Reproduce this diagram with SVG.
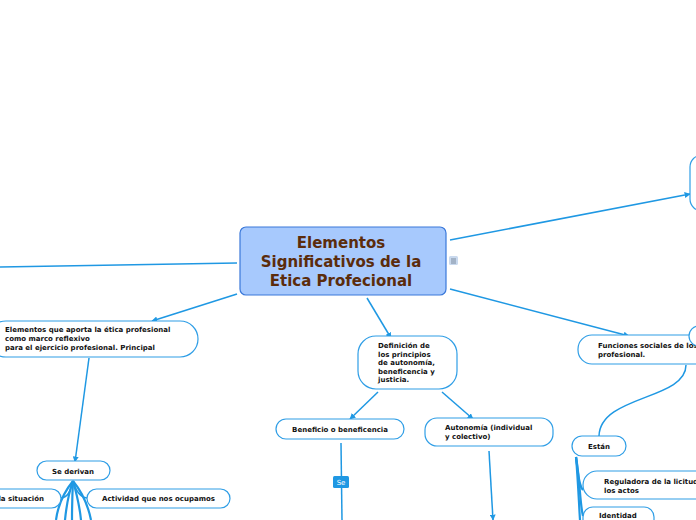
<svg xmlns="http://www.w3.org/2000/svg" width="696" height="520" viewBox="0 0 696 520">
<style>
.c{fill:none;stroke:#1f98e3;stroke-width:1.5}
.cb{fill:none;stroke:#1f98e3;stroke-width:2.2}
.n{fill:#fff;stroke:#2f9ee6;stroke-width:1.2}
.t{font-family:"DejaVu Sans",Verdana,sans-serif;font-weight:bold;font-size:7px;fill:#111}
.title{font-family:"DejaVu Sans",Verdana,sans-serif;font-weight:bold;font-size:15px;fill:#5b2c0c}
</style>
<defs>
<marker id="ah" viewBox="0 0 10 10" refX="9" refY="5" markerWidth="6" markerHeight="6" orient="auto" markerUnits="userSpaceOnUse">
<path d="M0,0 L10,5 L0,10 z" fill="#1f98e3"/>
</marker>
</defs>
<g id="connectors">
<line class="c" x1="237" y1="263" x2="0" y2="267"/>
<line class="c" x1="450" y1="240" x2="690" y2="194" marker-end="url(#ah)"/>
<line class="c" x1="237" y1="294" x2="152" y2="321" marker-end="url(#ah)"/>
<line class="c" x1="367" y1="298" x2="391" y2="338" marker-end="url(#ah)"/>
<line class="c" x1="450" y1="289" x2="629" y2="336" marker-end="url(#ah)"/>
<line class="c" x1="89" y1="358" x2="75" y2="462" marker-end="url(#ah)"/>
<line class="c" x1="378" y1="392" x2="350" y2="419" marker-end="url(#ah)"/>
<line class="c" x1="442" y1="392" x2="473" y2="419" marker-end="url(#ah)"/>
<line class="c" x1="341" y1="443" x2="342" y2="520"/>
<line class="c" x1="489" y1="451" x2="493" y2="520" marker-end="url(#ah)"/>
<path class="c" d="M73,481 C70,492 68,497 61,498"/>
<path class="c" d="M73,481 C76,492 80,497 87,498"/>
<path class="cb" d="M73,481 C64,492 58,505 56,520"/>
<path class="cb" d="M73,481 C82,492 88,505 91,520"/>
<path class="cb" d="M73,481 C68,495 66,510 65,520"/>
<path class="cb" d="M73,481 C77,495 80,510 81,520"/>
<path class="cb" d="M73,481 C72,500 72,510 72,520"/>
<path class="c" d="M686,365 C686,400 600,395 599,436"/>
<path class="cb" d="M576,457 C578,470 578,485 583,490"/>
<path class="cb" d="M576,457 C580,480 580,505 583,516"/>
<path class="cb" d="M576,457 C578,480 579,505 580,520"/>
</g>
<g id="central">
<rect x="240" y="227" width="206" height="68" rx="6" fill="#a7c9fd" stroke="#3a78da" stroke-width="1.2"/>
<text class="title" x="341" y="248" text-anchor="middle">Elementos</text>
<text class="title" x="341" y="267" text-anchor="middle">Significativos de la </text>
<text class="title" x="341" y="286" text-anchor="middle">Etica Profecional</text>
<rect x="449" y="256" width="9" height="9" rx="1.5" fill="#c9d9ee"/>
<path d="M451,259h5M451,261h5M451,263h5" stroke="#6b7a8c" stroke-width="0.8"/>
</g>
<g id="n-topright">
<rect class="n" x="690" y="155" width="60" height="56" rx="12" stroke="#7fc0ee"/>
</g>
<g id="n-elementos">
<rect class="n" x="-12" y="321" width="210" height="36" rx="18"/>
<text class="t" x="5" y="332">Elementos que aporta la ética profesional</text>
<text class="t" x="5" y="341">como marco reflexivo</text>
<text class="t" x="5" y="350">para el ejercicio profesional. Principal</text>
</g>
<g id="n-sederivan">
<rect class="n" x="37" y="461" width="73" height="19" rx="9.5"/>
<text class="t" x="73" y="473.5" text-anchor="middle">Se derivan</text>
</g>
<g id="n-situacion">
<rect class="n" x="-12" y="489" width="73" height="19" rx="9.5"/>
<text class="t" x="44" y="501" text-anchor="end">la situación</text>
</g>
<g id="n-actividad">
<rect class="n" x="87" y="489" width="143" height="19" rx="9.5"/>
<text class="t" x="158.5" y="501" text-anchor="middle">Actividad que nos ocupamos</text>
</g>
<g id="n-definicion">
<rect class="n" x="358" y="336" width="99" height="53" rx="18"/>
<text class="t" x="378" y="348">Definición de</text>
<text class="t" x="378" y="357">los principios</text>
<text class="t" x="378" y="365">de autonomía,</text>
<text class="t" x="378" y="374">beneficencia y</text>
<text class="t" x="378" y="382">justicia.</text>
</g>
<g id="n-beneficio">
<rect class="n" x="276" y="419" width="128" height="20" rx="10"/>
<text class="t" x="340" y="432" text-anchor="middle">Beneficio o beneficencia</text>
</g>
<g id="n-autonomia">
<rect class="n" x="425" y="418" width="128" height="28" rx="12"/>
<text class="t" x="445" y="430">Autonomía (individual</text>
<text class="t" x="445" y="439">y colectivo)</text>
</g>
<g id="label-se">
<rect x="333" y="476" width="16" height="12" rx="1.5" fill="#1f98e3"/>
<text x="341" y="485" text-anchor="middle" font-family="DejaVu Sans,sans-serif" font-size="7" fill="#fff">Se</text>
</g>
<g id="n-funciones">
<rect class="n" x="578" y="335" width="130" height="29" rx="14"/>
<text class="t" x="598" y="348">Funciones sociales de los</text>
<text class="t" x="598" y="357">profesional.</text>
</g>
<g id="n-circle">
<rect class="n" x="689" y="326" width="30" height="20" rx="10"/>
</g>
<g id="n-estan">
<rect class="n" x="572" y="436" width="54" height="20" rx="10"/>
<text class="t" x="588" y="449">Están</text>
</g>
<g id="n-reguladora">
<rect class="n" x="583" y="471" width="130" height="28" rx="14"/>
<text class="t" x="604" y="484">Reguladora de la licitud</text>
<text class="t" x="604" y="493">los actos</text>
</g>
<g id="n-identidad">
<rect class="n" x="583" y="507" width="71" height="24" rx="10"/>
<text class="t" x="599" y="518">Identidad</text>
</g>
</svg>
